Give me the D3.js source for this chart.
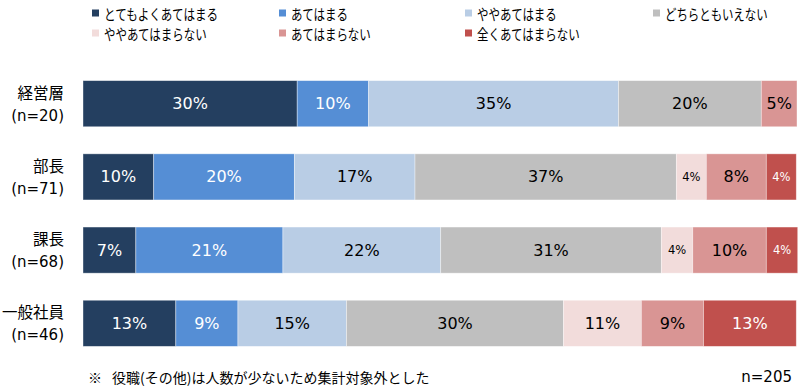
<!DOCTYPE html>
<html lang="ja">
<head>
<meta charset="UTF-8">
<title>役職別 回答割合</title>
<script src="https://cdn.jsdelivr.net/npm/d3@7"></script>
<style>
    body { margin: 0; background: #fff; }
    svg { display: block; font-family: "DejaVu Sans", "Noto Sans CJK JP", sans-serif; }
</style>
</head>
<body>
<svg id="chart" width="800" height="387"></svg>
<script>
    const width = 800;
    const height = 387;

    // answer categories (legend order = stack order)
    const answers = ["とてもよくあてはまる", "あてはまる", "ややあてはまる", "どちらともいえない",
                     "ややあてはまらない", "あてはまらない", "全くあてはまらない"];
    const colors = ["#243F60", "#558ED5", "#B9CDE5", "#BFBFBF", "#F2DCDB", "#D99594", "#C0504D"];
    const whiteText = [true, true, false, false, false, false, true];

    const groups = ["経営層", "部長", "課長", "一般社員"];
    const groupN = ["n=20", "n=71", "n=68", "n=46"];

    // share (%) per group, in answer order
    const keieisou = [30.0, 10.0, 35.0, 20.0, 0.0, 5.0, 0.0];
    const buchou   = [9.9, 19.7, 16.9, 36.6, 4.2, 8.4, 4.2];
    const kachou   = [7.4, 20.6, 22.1, 30.9, 4.4, 10.3, 4.4];
    const ippan    = [13.0, 8.7, 15.2, 30.4, 10.9, 8.7, 13.0];
    const values = [keieisou, buchou, kachou, ippan];

    const noteMark = "※";
    const note = "役職(その他)は人数が少ないため集計対象外とした";
    const total = "n=205";

    const svg = d3.select("#chart");

    const x = d3.scaleLinear().domain([0, 100]).range([83, 797]);
    const y = d3.scaleBand().domain(groups).range([66, 361]).paddingInner(0.37).paddingOuter(0.2);

    // legend (narrow Japanese font in the original, so squeeze the text a bit)
    const legendCols = [92, 279, 465, 653];
    const legend = svg.append("g");
    answers.forEach((a, i) => {
        const lx = legendCols[i % 4];
        const ly = i < 4 ? 13 : 33;
        legend.append("rect")
            .attr("x", lx).attr("y", ly - 3.5)
            .attr("width", 7).attr("height", 7)
            .attr("fill", colors[i]);
        legend.append("text")
            .attr("x", lx + 12).attr("y", ly)
            .attr("dominant-baseline", "central")
            .attr("font-family", "Noto Sans CJK JP")
            .attr("font-size", 15)
            .attr("textLength", a.length * 11.4)
            .attr("lengthAdjust", "spacingAndGlyphs")
            .attr("fill", "#000")
            .text(a);
    });

    // stacked bars
    groups.forEach((g, gi) => {
        let acc = 0;
        const row = svg.append("g");
        values[gi].forEach((v, i) => {
            const x0 = x(acc);
            acc += v;
            const x1 = x(acc);
            if (v <= 0) return;
            row.append("rect")
                .attr("x", x0).attr("y", y(g))
                .attr("width", x1 - x0).attr("height", y.bandwidth())
                .attr("fill", colors[i])
                .attr("stroke", "#ffffff")
                .attr("stroke-opacity", 0.5)
                .attr("stroke-width", 0.75);
            row.append("text")
                .attr("x", (x0 + x1) / 2)
                .attr("y", y(g) + y.bandwidth() / 2)
                .attr("text-anchor", "middle")
                .attr("dominant-baseline", "central")
                .attr("font-size", v < 5 ? 11.5 : 16)
                .attr("fill", whiteText[i] ? "#fff" : "#000")
                .text(Math.round(v) + "%");
        });

        // category label
        const cy = y(g) + y.bandwidth() / 2;
        svg.append("text")
            .attr("x", 64).attr("y", cy - 12)
            .attr("text-anchor", "end")
            .attr("dominant-baseline", "central")
            .attr("font-family", "Noto Sans CJK JP")
            .attr("font-size", 15.5)
            .text(g);
        svg.append("text")
            .attr("x", 64).attr("y", cy + 12)
            .attr("text-anchor", "end")
            .attr("dominant-baseline", "central")
            .attr("font-size", 15)
            .text("(" + groupN[gi] + ")");
    });

    // footnote
    svg.append("text")
        .attr("x", 88).attr("y", 377)
        .attr("dominant-baseline", "central")
        .attr("font-family", "Noto Sans CJK JP")
        .attr("font-size", 14)
        .text(noteMark);
    svg.append("text")
        .attr("x", 112).attr("y", 377)
        .attr("dominant-baseline", "central")
        .attr("font-family", "Noto Sans CJK JP")
        .attr("font-size", 14)
        .text(note);
    svg.append("text")
        .attr("x", 792).attr("y", 377)
        .attr("text-anchor", "end")
        .attr("dominant-baseline", "central")
        .attr("font-size", 15)
        .text(total);
</script>
</body>
</html>
